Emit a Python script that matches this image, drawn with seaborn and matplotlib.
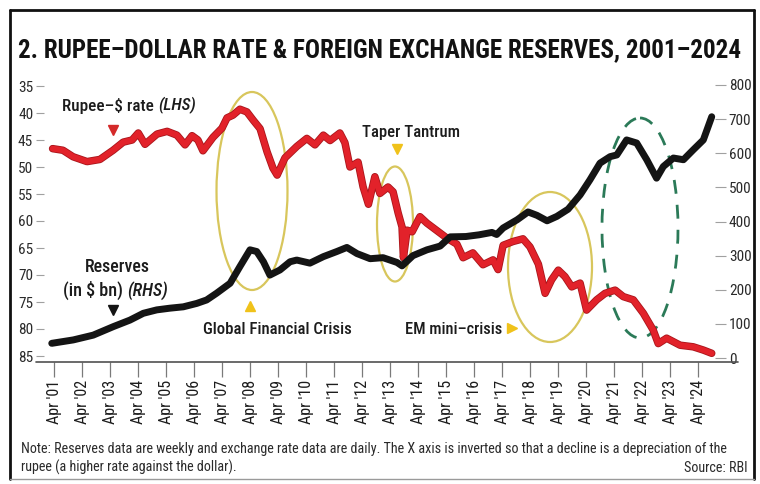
import matplotlib
matplotlib.use("Agg")
import matplotlib.pyplot as plt
import matplotlib.font_manager as fm
import matplotlib.patheffects as pe
from matplotlib.patches import Ellipse
from matplotlib.lines import Line2D
import seaborn as sns

# ---------------------------------------------------------------------------
# Data (decimal years)
# ---------------------------------------------------------------------------
rate_year = [2001.20, 2001.57, 2001.93, 2002.43, 2002.89, 2003.36, 2003.72, 2004.04,
             2004.26, 2004.50, 2004.93, 2005.29, 2005.64, 2005.93, 2006.18, 2006.39,
             2006.57, 2006.93, 2007.25, 2007.43, 2007.64, 2007.89, 2008.14, 2008.36,
             2008.61, 2008.86, 2009.07, 2009.22, 2009.50, 2009.92, 2010.28, 2010.57,
             2010.87, 2011.11, 2011.46, 2011.64, 2011.82, 2012.11, 2012.29, 2012.48,
             2012.71, 2012.89, 2013.18, 2013.36, 2013.54, 2013.68, 2013.73, 2013.86,
             2014.04, 2014.32, 2014.57, 2014.93, 2015.29, 2015.64, 2015.86, 2016.21,
             2016.57, 2016.93, 2017.11, 2017.29, 2017.64, 2018.00, 2018.25, 2018.55,
             2018.79, 2019.02, 2019.26, 2019.50, 2019.74, 2020.04, 2020.27, 2020.63,
             2020.93, 2021.29, 2021.58, 2021.94, 2022.30, 2022.65, 2022.83, 2023.13,
             2023.61, 2024.08, 2024.44, 2024.74]
rate_value = [46.6, 46.9, 48.1, 49.0, 48.6, 46.9, 45.4, 45.0,
              43.7, 45.8, 43.9, 43.4, 44.1, 45.9, 44.2, 45.0,
              47.0, 44.5, 42.8, 40.9, 40.4, 39.3, 39.8, 41.3,
              42.9, 47.2, 50.2, 51.5, 48.3, 46.2, 44.7, 45.9,
              44.1, 45.1, 43.7, 45.5, 50.0, 49.1, 53.7, 56.9,
              51.8, 54.9, 53.7, 54.6, 58.5, 61.1, 66.8, 61.7,
              62.0, 59.2, 60.4, 61.8, 63.2, 64.3, 66.8, 65.9,
              68.1, 67.2, 69.0, 64.5, 63.8, 63.3, 64.8, 68.0,
              73.4, 70.9, 69.1, 70.3, 72.2, 71.5, 76.5, 74.6,
              73.4, 72.8, 74.0, 74.6, 77.1, 80.2, 82.7, 81.7,
              83.0, 83.3, 83.9, 84.5]

reserve_year = [2001.17, 2001.94, 2002.65, 2003.37, 2003.96, 2004.44, 2004.92, 2005.39,
                2005.87, 2006.35, 2006.70, 2007.06, 2007.54, 2007.89, 2008.25, 2008.49,
                2008.73, 2008.96, 2009.32, 2009.68, 2009.92, 2010.39, 2010.87, 2011.35,
                2011.71, 2012.07, 2012.54, 2013.00, 2013.50, 2013.68, 2014.07, 2014.57,
                2015.04, 2015.40, 2015.96, 2016.43, 2016.89, 2017.06, 2017.29, 2017.79,
                2018.18, 2018.50, 2018.86, 2019.21, 2019.61, 2020.04, 2020.39, 2020.75,
                2021.11, 2021.35, 2021.70, 2022.06, 2022.42, 2022.77, 2023.01, 2023.37,
                2023.73, 2024.08, 2024.44, 2024.74]
reserve_value = [43, 53, 67, 92, 111, 131, 141, 146,
                 150, 160, 170, 190, 219, 268, 317, 312,
                 282, 243, 258, 282, 287, 278, 297, 312,
                 324, 306, 291, 294, 280, 270, 300, 317,
                 328, 355, 356, 361, 368, 362, 381, 405,
                 428, 418, 402, 415, 436, 478, 522, 571,
                 590, 595, 639, 630, 581, 527, 561, 586,
                 581, 610, 639, 707]

tick_years = list(range(2001, 2025))
tick_labels = [f"Apr '{y % 100:02d}" for y in tick_years]
rate_ticks = list(range(35, 90, 5))
reserve_ticks = list(range(0, 900, 100))

TITLE = "2. RUPEE–DOLLAR RATE & FOREIGN EXCHANGE RESERVES, 2001–2024"
NOTE_1 = ("Note: Reserves data are weekly and exchange rate data are daily. "
          "The X axis is inverted so that a decline is a depreciation of the")
NOTE_2 = "rupee (a higher rate against the dollar)."
SOURCE = "Source: RBI"

# ---------------------------------------------------------------------------
# Style
# ---------------------------------------------------------------------------
RED = "#e2222a"
RED_EDGE = "#a9151b"
BLACK = "#141414"
RING = "#d8c65c"
MARK = "#f0c21a"
GREEN = "#2b7a58"
INK = "#1c1c1c"
AXIS = "#505050"

sns.set_style("white")


def pick_font():
    entries = fm.fontManager.ttflist
    names = {f.name for f in entries}
    for name in ["Roboto Condensed", "Open Sans Condensed", "Liberation Sans Narrow",
                 "DejaVu Sans Condensed", "Noto Sans Condensed"]:
        if name in names:
            return name, "normal"
    narrow = {f.name for f in entries
              if f.stretch in ("condensed", "semi-condensed", "extra-condensed",
                               "ultra-condensed")
              or (isinstance(f.stretch, int) and f.stretch < 500)}
    for name in ["Noto Sans", "Open Sans", "Roboto", "DejaVu Sans"]:
        if name in narrow:
            return name, "condensed"
    return "DejaVu Sans", "normal"


FONT, STRETCH = pick_font()
plt.rcParams["font.family"] = [FONT, "DejaVu Sans"]
plt.rcParams["font.stretch"] = STRETCH

W, H = 760, 484
fig = plt.figure(figsize=(W / 100, H / 100), dpi=100)
fig.patch.set_facecolor("white")


def fx(px):
    return px / W


def fy(py):
    return 1 - py / H


# horizontal layout: Apr '01 sits at 54 px, one year every 28 px
def yr(px):
    return 2001.25 + (px - 54) / 28


# vertical layout of the inverted rupee axis: 35 at 86 px, 5.4 px per rupee
def lhs(py):
    return 35 + (py - 86) / 5.4


def rhs(py):
    return (358 - py) / 0.34125


AX_L, AX_R, AX_T, AX_B = 36, 726, 80, 362
ax = fig.add_axes([fx(AX_L), fy(AX_B), fx(AX_R) - fx(AX_L), fy(AX_T) - fy(AX_B)])
ax.set_facecolor("white")
ax2 = ax.twinx()

# ---------------------------------------------------------------------------
# Series
# ---------------------------------------------------------------------------
sns.lineplot(x=rate_year, y=rate_value, ax=ax, color=RED, lw=4.2, sort=False,
             solid_joinstyle="round", solid_capstyle="round", zorder=4,
             path_effects=[pe.Stroke(linewidth=5.4, foreground=RED_EDGE), pe.Normal()])
sns.lineplot(x=reserve_year, y=reserve_value, ax=ax2, color=BLACK, lw=5.0, sort=False,
             solid_joinstyle="round", solid_capstyle="round", zorder=4)

ax.set_xlim(yr(AX_L), yr(AX_R))
ax.set_ylim(lhs(AX_B), lhs(AX_T))
ax2.set_ylim(rhs(AX_B), rhs(AX_T))

for a in (ax, ax2):
    for side in ("left", "right", "top", "bottom"):
        a.spines[side].set_visible(False)
    a.set_xlabel("")
    a.set_ylabel("")

# baseline of the chart, running slightly past the plotting area
fig.add_artist(Line2D([fx(AX_L), fx(738)], [fy(AX_B), fy(AX_B)], color=AXIS, lw=1.2))

ax.set_xticks([y + 0.25 for y in tick_years])
ax.set_xticklabels(tick_labels)
ax.tick_params(axis="x", bottom=True, direction="out", length=11, width=0.9,
               color="#7a7a7a", pad=2, labelrotation=90, labelcolor=INK, labelsize=10)

ax.set_yticks(rate_ticks)
ax.set_yticklabels([str(v) for v in rate_ticks])
ax.tick_params(axis="y", left=True, right=False, direction="in", length=6, width=0.8,
               color="#a0a0a0", pad=2, labelcolor="#2a2a2a", labelsize=12)

ax2.set_yticks(reserve_ticks)
ax2.set_yticklabels([str(v) for v in reserve_ticks])
ax2.tick_params(axis="y", right=True, left=False, direction="in", length=8, width=0.8,
                color="#a0a0a0", pad=2, labelcolor="#2a2a2a", labelsize=12)

# ---------------------------------------------------------------------------
# Highlighted episodes
# ---------------------------------------------------------------------------
rings = [
    (252, 191, 71, 198),   # global financial crisis
    (395, 224, 36, 115),   # taper tantrum
    (550, 267, 84, 150),   # EM mini-crisis
]
for cx, cy, w, h in rings:
    ax.add_patch(Ellipse((yr(cx), lhs(cy)), width=w / 28, height=h / 5.4,
                         fill=False, ec=RING, lw=1.6, zorder=2))
ax.add_patch(Ellipse((yr(640), lhs(228)), width=76 / 28, height=220 / 5.4,
                     fill=False, ec=GREEN, lw=2.0, ls=(0, (5, 4)), zorder=2))

ax.plot([yr(113)], [lhs(130)], marker="v", ms=7, color="#d42a2a", zorder=5)
ax.plot([yr(113)], [lhs(310)], marker="v", ms=7, color=BLACK, zorder=5)
ax.plot([yr(250)], [lhs(306)], marker="^", ms=7, color=MARK, zorder=5)
ax.plot([yr(397)], [lhs(149)], marker="v", ms=7, color=MARK, zorder=5)
ax.plot([yr(512)], [lhs(328)], marker=">", ms=7, color=MARK, zorder=5)

lab_kw = dict(color=INK, fontsize=12, weight="medium", zorder=6)
t_rate = ax.text(yr(62), lhs(106), "Rupee–\\$ rate", ha="left", va="center", **lab_kw)
t_rate_side = ax.annotate("(LHS)", xy=(1, 0), xycoords=t_rate, xytext=(3, 0),
                          textcoords="offset points", ha="left", va="bottom",
                          style="italic", **lab_kw)
t_res = ax.text(yr(117.5), lhs(267), "Reserves", ha="center", va="center", **lab_kw)
t_res2 = ax.text(yr(63), lhs(290), "(in \\$ bn)", ha="left", va="center", **lab_kw)
t_res2_side = ax.annotate("(RHS)", xy=(1, 0), xycoords=t_res2, xytext=(3, 0),
                          textcoords="offset points", ha="left", va="bottom",
                          style="italic", **lab_kw)
t_taper = ax.text(yr(362), lhs(132), "Taper Tantrum", ha="left", va="center", **lab_kw)
t_gfc = ax.text(yr(203), lhs(330), "Global Financial Crisis", ha="left", va="center", **lab_kw)
t_em = ax.text(yr(502), lhs(329), "EM mini–crisis", ha="right", va="center", **lab_kw)

# ---------------------------------------------------------------------------
# Title, note, frame
# ---------------------------------------------------------------------------
t_title = fig.text(fx(18), fy(57), TITLE, ha="left", va="baseline", fontsize=24,
                   weight="bold", color="#121212")
note_kw = dict(fontsize=10, color="#2a2a2a")
t_n1 = fig.text(fx(21), fy(453), NOTE_1, ha="left", va="baseline", **note_kw)
t_n2 = fig.text(fx(21), fy(472), NOTE_2, ha="left", va="baseline", **note_kw)
t_src = fig.text(fx(748), fy(472), SOURCE, ha="right", va="baseline", **note_kw)

fig.add_artist(Line2D([fx(10), fx(10)], [fy(10), fy(479)], color="#111", lw=2.0))
fig.add_artist(Line2D([fx(10), fx(754)], [fy(10), fy(10)], color="#111", lw=2.0))
fig.add_artist(Line2D([fx(754), fx(754)], [fy(10), fy(479)], color="#111", lw=2.0))
fig.add_artist(Line2D([fx(10), fx(754)], [fy(479), fy(479)], color="#9a9a9a", lw=1.0))

# ---------------------------------------------------------------------------
# Size the text to the space it occupies
# ---------------------------------------------------------------------------
fig.canvas.draw()
r = fig.canvas.get_renderer()


def width(a):
    return a.get_window_extent(r).width


def scale(artists, factor, cap=None):
    for a in artists:
        s = a.get_fontsize() * factor
        if cap is not None:
            s = min(s, cap)
        a.set_fontsize(s)


def span(first, last):
    return last.get_window_extent(r).x1 - first.get_window_extent(r).x0


scale([t_title], 727 / width(t_title))
f = 702 / width(t_n1)
scale([t_n1, t_n2, t_src], f)
scale([t_rate, t_rate_side], 133 / span(t_rate, t_rate_side), cap=13)
scale([t_res2, t_res2_side], 107 / span(t_res2, t_res2_side), cap=13)
scale([t_res], 65 / width(t_res), cap=13)
scale([t_taper], 98 / width(t_taper), cap=13)
scale([t_gfc], 149 / width(t_gfc), cap=13)
scale([t_em], 97 / width(t_em), cap=13)

xl = ax.get_xticklabels()
xs = min(50 / xl[0].get_window_extent(r).height, 1.15)
for lab in xl:
    lab.set_fontsize(lab.get_fontsize() * xs)
yl = ax.get_yticklabels()
ys = min(15 / yl[0].get_window_extent(r).width, 1.15)
for lab in list(yl) + list(ax2.get_yticklabels()):
    lab.set_fontsize(lab.get_fontsize() * ys)

fig.savefig("out.png", dpi=100, facecolor="white")
